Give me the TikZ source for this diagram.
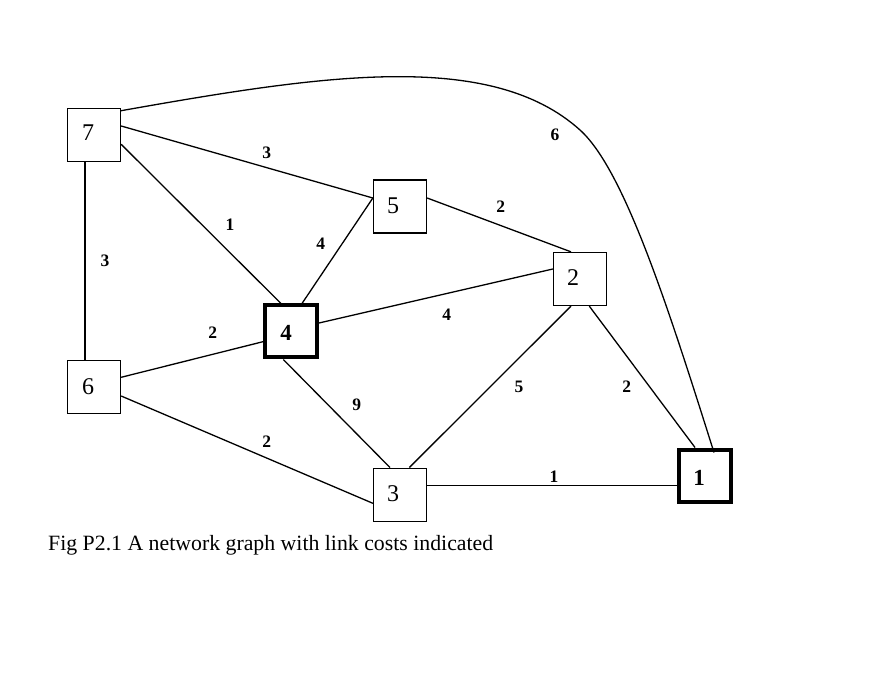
\documentclass[tikz,border=0pt]{standalone}
\usepackage{fontspec}
\setmainfont{Liberation Serif}
\usetikzlibrary{calc}
\begin{document}
\begin{tikzpicture}[x=1pt,y=-1pt,
  box/.style={draw,line width=1.3pt,minimum width=53pt,minimum height=53pt,inner sep=0pt},
  tbox/.style={draw,line width=4pt,minimum width=52pt,minimum height=52pt,inner sep=0pt},
  numtxt/.style={font=\fontsize{24}{24}\selectfont,inner sep=0pt},
  bnumtxt/.style={font=\fontsize{23}{23}\selectfont\bfseries,inner sep=0pt},
  cost/.style={font=\fontsize{17.5}{17.5}\selectfont\bfseries,inner sep=0pt},
  link/.style={line width=1.3pt}]
\useasboundingbox (0,0) rectangle (892,676);
% nodes
\node[box,label={[numtxt,xshift=-6pt,yshift=2pt]center:7}] (n7) at (94,135) {};
\node[box,label={[numtxt,xshift=-7pt,yshift=0.5pt]center:5}] (n5) at (400,206.5) {};
\node[box,label={[numtxt,xshift=-7pt,yshift=1pt]center:2}] (n2) at (580,279) {};
\node[tbox,label={[bnumtxt,xshift=-5pt,yshift=-1.5pt]center:4}] (n4) at (291,331.5) {};
\node[box,label={[numtxt,xshift=-6pt]center:6}] (n6) at (94,387) {};
\node[box,label={[numtxt,xshift=-7pt,yshift=1.5pt]center:3}] (n3) at (400,494.7) {};
\node[tbox,label={[bnumtxt,xshift=-6pt,yshift=-2.5pt]center:1}] (n1) at (705,475.5) {};
% links
\draw[link] ($(n7.east)+(0,-9)$) -- ($(n5.west)+(0,-8.5)$);
\draw[link] ($(n7.east)+(0,9.3)$) -- ($(n4.north)+(-10,0)$);
\draw[link] ($(n7.south)+(-9,0)$) -- ($(n6.north)+(-9,0)$);
\draw[link] ($(n5.west)+(0,-8.5)$) -- ($(n4.north)+(11,0)$);
\draw[link] ($(n5.east)+(0,-8.5)$) -- ($(n2.north)+(-9,0)$);
\draw[link] ($(n4.east)+(0,-8.5)$) -- ($(n2.west)+(0,-10)$);
\draw[link] ($(n6.east)+(0,-9.7)$) -- ($(n4.west)+(0,10.2)$);
\draw[link] ($(n6.east)+(0,9)$) -- ($(n3.west)+(0,8.6)$);
\draw[link] ($(n4.south)+(-7.7,0)$) -- ($(n3.north)+(-10,0)$);
\draw[link] ($(n2.south)+(-9,0)$) -- ($(n3.north)+(9.3,0)$);
\draw[link] ($(n2.south)+(9.3,0)$) -- ($(n1.north)+(-10,0)$);
\draw[link] ($(n3.east)+(0,-9)$) -- ($(n1.west)+(0,10.2)$);
\coordinate (m71) at (580,130);
\draw[link] ($(n7.east)+(0,-24.3)$) .. controls (321,75.3) and (490,49) .. (m71)
  .. controls (624.6,170.1) and (669,310) .. ($(n1.north)+(9,5)$);
% costs
\node[cost] (c75) at (266.7,152.7) {3};
\node[cost] (c74) at (230,224.3) {1};
\node[cost] (c76) at (105,260.7) {3};
\node[cost] (c54) at (320.7,243.3) {4};
\node[cost] (c52) at (500.7,206.7) {2};
\node[cost] (c42) at (446.7,314.3) {4};
\node[cost] (c64) at (212.7,332.7) {2};
\node[cost] (c63) at (266.7,441.7) {2};
\node[cost] (c43) at (356.7,404.3) {9};
\node[cost] (c23) at (519,386.7) {5};
\node[cost] (c21) at (626.7,386.7) {2};
\node[cost] (c31) at (554,476.7) {1};
\node[cost] (c71) at (555,135) {6};
% caption
\node[anchor=base west,inner sep=0pt,font=\fontsize{21.8}{22}\selectfont] (cap) at (48,550) {Fig P2.1 A network graph with link costs indicated};
\end{tikzpicture}
\end{document}
